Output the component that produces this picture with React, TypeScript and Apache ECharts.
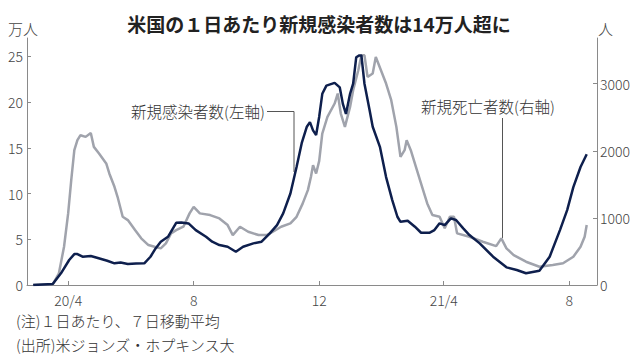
import React, { useEffect, useRef } from 'react';
import * as echarts from 'echarts';

const titleText = '米国の１日あたり新規感染者数は14万人超に';
const leftUnit = '万人';
const rightUnit = '人';
const note1 = '(注)１日あたり、７日移動平均';
const note2 = '(出所)米ジョンズ・ホプキンス大';
const caseLabel = '新規感染者数(左軸)';
const deathLabel = '新規死亡者数(右軸)';

const xTickDates = ['2020-04-01', '2020-08-01', '2020-12-01', '2021-04-01', '2021-08-01'];
const xTickLabels = ['20/4', '8', '12', '21/4', '8'];
const leftTicks = [0, 5, 10, 15, 20, 25];
const rightTicks = [0, 1000, 2000, 3000];

// New cases, 7-day average (万人)
const caseDates = [
  '2020-02-27', '2020-03-17', '2020-03-25', '2020-04-02', '2020-04-07', '2020-04-10', '2020-04-15',
  '2020-04-23', '2020-04-29', '2020-05-09', '2020-05-16', '2020-05-22', '2020-05-29', '2020-06-06',
  '2020-06-14', '2020-06-20', '2020-06-25', '2020-06-30', '2020-07-07', '2020-07-15', '2020-07-20',
  '2020-07-27', '2020-08-03', '2020-08-13', '2020-08-19', '2020-08-26', '2020-09-03', '2020-09-11',
  '2020-09-18', '2020-09-28', '2020-10-06', '2020-10-14', '2020-10-21', '2020-10-27', '2020-11-03',
  '2020-11-09', '2020-11-14', '2020-11-19', '2020-11-22', '2020-11-25', '2020-11-28', '2020-12-01',
  '2020-12-04', '2020-12-08', '2020-12-16', '2020-12-21', '2020-12-24', '2020-12-27', '2020-12-31',
  '2021-01-03', '2021-01-06', '2021-01-09', '2021-01-11', '2021-01-14', '2021-01-19', '2021-01-22',
  '2021-01-29', '2021-02-04', '2021-02-10', '2021-02-15', '2021-02-18', '2021-02-25', '2021-03-04',
  '2021-03-10', '2021-03-18', '2021-03-23', '2021-03-28', '2021-04-02', '2021-04-08', '2021-04-13',
  '2021-04-20', '2021-04-26', '2021-05-06', '2021-05-19', '2021-06-01', '2021-06-11', '2021-06-20',
  '2021-07-03', '2021-07-13', '2021-07-23', '2021-07-30', '2021-08-05', '2021-08-12', '2021-08-18',
];
const caseValues = [
  0.0, 0.1, 1.28, 2.73, 3.38, 3.38, 3.09,
  3.17, 2.98, 2.65, 2.37, 2.45, 2.3, 2.35,
  2.37, 3.09, 4.0, 4.73, 5.27, 6.8, 6.84,
  6.73, 6.0, 5.27, 4.73, 4.37, 4.18, 3.64,
  4.18, 4.55, 4.73, 5.64, 6.55, 7.83, 10.0,
  12.9, 15.5, 17.3, 17.8, 16.9, 16.4, 18.4,
  20.9, 21.8, 22.1, 21.6, 19.8, 18.7, 20.9,
  22.0, 24.9, 25.1, 25.1, 22.0, 19.1, 17.3,
  15.1, 11.8, 9.28, 7.46, 6.91, 7.02, 6.37,
  5.71, 5.71, 6.0, 6.74, 6.55, 7.28, 7.1,
  6.19, 5.46, 4.55, 3.09, 1.93, 1.64, 1.28,
  1.56, 3.09, 6.0, 8.19, 10.7, 12.9, 14.3,
];

// New deaths, 7-day average (人)
const deathDates = [
  '2020-02-27', '2020-03-17', '2020-03-23', '2020-03-28', '2020-04-01', '2020-04-04', '2020-04-07',
  '2020-04-10', '2020-04-13', '2020-04-18', '2020-04-23', '2020-04-26', '2020-05-01', '2020-05-08',
  '2020-05-11', '2020-05-16', '2020-05-19', '2020-05-24', '2020-05-29', '2020-06-05', '2020-06-11',
  '2020-06-18', '2020-06-24', '2020-06-30', '2020-07-05', '2020-07-10', '2020-07-15', '2020-07-22',
  '2020-07-28', '2020-08-01', '2020-08-07', '2020-08-17', '2020-08-26', '2020-09-03', '2020-09-08',
  '2020-09-15', '2020-09-23', '2020-10-03', '2020-10-11', '2020-10-17', '2020-10-25', '2020-11-03',
  '2020-11-09', '2020-11-15', '2020-11-20', '2020-11-23', '2020-11-25', '2020-11-28', '2020-12-01',
  '2020-12-04', '2020-12-09', '2020-12-16', '2020-12-19', '2020-12-22', '2020-12-26', '2020-12-31',
  '2021-01-03', '2021-01-08', '2021-01-11', '2021-01-14', '2021-01-17', '2021-01-22', '2021-01-25',
  '2021-01-30', '2021-02-04', '2021-02-09', '2021-02-14', '2021-02-18', '2021-02-22', '2021-02-24',
  '2021-02-28', '2021-03-05', '2021-03-11', '2021-03-16', '2021-03-21', '2021-03-28', '2021-04-02',
  '2021-04-07', '2021-04-11', '2021-04-14', '2021-04-26', '2021-05-09', '2021-05-22', '2021-05-27',
  '2021-06-01', '2021-06-08', '2021-06-20', '2021-07-03', '2021-07-16', '2021-07-26', '2021-08-05',
  '2021-08-12', '2021-08-16', '2021-08-18',
];
const deathValues = [
  0, 10, 174, 570, 1067, 1562, 2009,
  2158, 2232, 2207, 2266, 2058, 1960, 1811,
  1662, 1463, 1314, 1016, 967, 818, 695,
  595, 570, 546, 620, 769, 818, 868,
  1067, 1165, 1067, 1042, 992, 893, 744,
  868, 794, 744, 744, 794, 868, 918,
  1016, 1216, 1414, 1612, 1786, 1662, 1850,
  2257, 2504, 2704, 2853, 2555, 2356, 2653,
  2902, 3199, 3422, 3422, 3100, 3150, 3397,
  3199, 3001, 2753, 2356, 1909, 2009, 2158,
  2009, 1760, 1463, 1216, 1042, 1016, 844,
  1016, 1016, 769, 719, 645, 580, 695,
  546, 446, 347, 272, 298, 323, 421,
  570, 719, 893,
];

const xMinDate = '2020-02-21';
const xMaxDate = '2021-08-28';

const ts = (s: string) => {
  const [y, m, d] = s.split('-').map(Number);
  return Date.UTC(y, m - 1, d);
};

const FONT = '"Noto Sans CJK JP", "Noto Sans", sans-serif';

export default function App() {
  const ref = useRef<HTMLDivElement>(null);
  useEffect(() => {
    if (!ref.current) return;
    const chart = echarts.init(ref.current, undefined, { renderer: 'svg' });
    const tickTs = xTickDates.map(ts);
    const labelMap: Record<number, string> = {};
    tickTs.forEach((t, i) => (labelMap[t] = xTickLabels[i]));
    const axisColor = '#8a8a8a';
    const labelColor = '#444';
    const lbl = { color: labelColor, fontFamily: FONT, fontSize: 14, fontWeight: 300 };
    chart.setOption({
      animation: false,
      backgroundColor: '#fff',
      title: {
        text: titleText,
        left: 'center',
        top: 9,
        textStyle: { fontFamily: FONT, fontSize: 19, fontWeight: 'bold', color: '#222' },
      },
      grid: { left: 27, right: 41, top: 38, bottom: 74, containLabel: false },
      xAxis: {
        type: 'value',
        min: ts(xMinDate),
        max: ts(xMaxDate),
        splitLine: { show: false },
        axisLine: { show: true, lineStyle: { color: axisColor, width: 1 } },
        axisTick: { show: true, inside: true, length: 4, customValues: tickTs, lineStyle: { color: axisColor } },
        axisLabel: {
          customValues: tickTs,
          formatter: (v: number) => labelMap[v] ?? '',
          margin: 8,
          ...lbl,
        },
      },
      yAxis: [
        {
          type: 'value',
          min: 0,
          max: 27,
          position: 'left',
          splitLine: { show: false },
          axisLine: { show: true, lineStyle: { color: axisColor, width: 1 } },
          axisTick: { show: true, inside: true, length: 4, customValues: leftTicks, lineStyle: { color: axisColor } },
          axisLabel: { customValues: leftTicks, margin: 4, formatter: (v: number) => String(v), ...lbl },
        },
        {
          type: 'value',
          min: 0,
          max: 3680,
          position: 'right',
          splitLine: { show: false },
          axisLine: { show: true, lineStyle: { color: axisColor, width: 1 } },
          axisTick: { show: true, inside: true, length: 4, customValues: rightTicks, lineStyle: { color: axisColor } },
          axisLabel: { customValues: rightTicks, margin: 3, formatter: (v: number) => String(v), ...lbl },
        },
      ],
      series: [
        {
          name: '新規死亡者数',
          type: 'line',
          yAxisIndex: 1,
          showSymbol: false,
          symbol: 'none',
          data: deathDates.map((d, i) => [ts(d), deathValues[i]]),
          lineStyle: { color: '#a0a3ac', width: 2.5 },
          z: 2,
        },
        {
          name: '新規感染者数',
          type: 'line',
          yAxisIndex: 0,
          showSymbol: false,
          symbol: 'none',
          data: caseDates.map((d, i) => [ts(d), caseValues[i]]),
          lineStyle: { color: '#0e1f4d', width: 2.5 },
          z: 3,
        },
      ],
      graphic: [
        { type: 'text', left: 8, top: 21, style: { text: leftUnit, fontFamily: FONT, fontSize: 15, fontWeight: 300, fill: '#444' } },
        { type: 'text', left: 598, top: 21, style: { text: rightUnit, fontFamily: FONT, fontSize: 15, fontWeight: 300, fill: '#444' } },
        { type: 'text', left: 131, top: 103, style: { text: caseLabel, fontFamily: FONT, fontSize: 15.5, fontWeight: 300, fill: '#333' } },
        {
          type: 'polyline',
          shape: { points: [[267, 111.5], [294, 111.5], [294, 172]] },
          style: { stroke: '#555', lineWidth: 1, fill: 'none' },
          silent: true,
        },
        { type: 'text', left: 421, top: 98, style: { text: deathLabel, fontFamily: FONT, fontSize: 15.5, fontWeight: 300, fill: '#333' } },
        {
          type: 'line',
          shape: { x1: 502.5, y1: 118, x2: 502.5, y2: 238 },
          style: { stroke: '#555', lineWidth: 1 },
          silent: true,
        },
        { type: 'text', left: 16, top: 313, style: { text: note1, fontFamily: FONT, fontSize: 15, fontWeight: 300, fill: '#333' } },
        { type: 'text', left: 16, top: 337, style: { text: note2, fontFamily: FONT, fontSize: 15, fontWeight: 300, fill: '#333' } },
      ],
    });
    return () => chart.dispose();
  }, []);
  return <div ref={ref} style={{ width: 638, height: 359, position: 'fixed', left: 0, top: 0 }} />;
}
